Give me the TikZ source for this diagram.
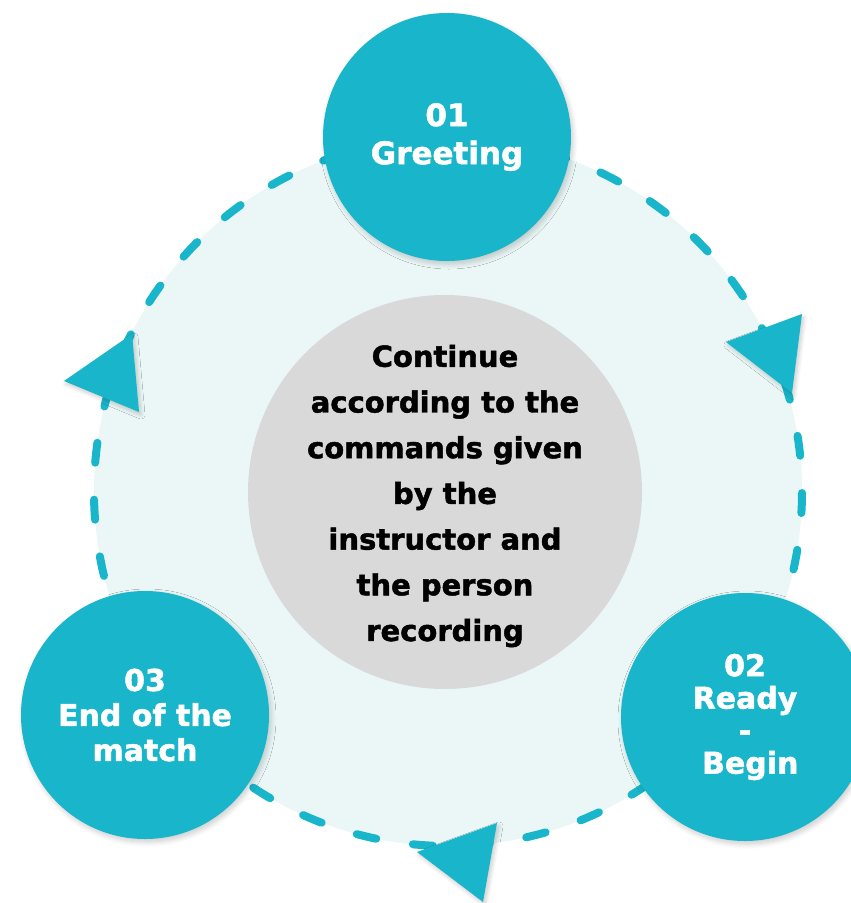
\documentclass[tikz,border=0pt]{standalone}
\usepackage{fontspec}
\setmainfont{DejaVu Sans}[BoldFeatures={FakeBold=1.6}]
\usetikzlibrary{shadows.blur}
\definecolor{tealmain}{HTML}{19B5CA}
\definecolor{paleteal}{HTML}{EAF7F6}
\definecolor{hubgray}{HTML}{D9D9D9}
\begin{document}
\begin{tikzpicture}[x=1pt,y=-1pt,
  stepcirc/.style={circle, fill=tealmain, minimum size=248pt, inner sep=0pt,
    text=white, align=center, font=\bfseries\fontsize{30}{34}\selectfont,
    blur shadow={shadow xshift=2pt, shadow yshift=-3pt, shadow opacity=20, shadow blur steps=8, shadow blur radius=5pt}},
  hubcirc/.style={circle, fill=hubgray, minimum size=394pt, inner sep=0pt},
  hubtext/.style={text=black, align=center, inner sep=0pt, font=\bfseries\fontsize{29}{45.7}\selectfont},
  ring/.style={draw=tealmain, line width=8pt, line cap=round,
    dash pattern=on 20pt off 37.03pt, dash phase=56pt},
  arrowtri/.style={fill=tealmain,
    blur shadow={shadow xshift=2pt, shadow yshift=-3pt, shadow opacity=20, shadow blur steps=6, shadow blur radius=4pt}}
]
\useasboundingbox (0,0) rectangle (851,903);
\clip (0,0) rectangle (851,903);
\coordinate (c) at (448,492);
\fill[paleteal] (c) circle[radius=354];
\draw[ring] (c) circle[radius=354];
\node[hubcirc] (hub) at (445,492) {};
\node[hubtext] (hubtxt) at (445,496) {Continue\\according to the\\commands given\\by the\\instructor and\\the person\\recording};
\coordinate (a1) at (726,342); \coordinate (a2) at (802,314); \coordinate (a3) at (792,393);
\coordinate (b1) at (64,381);  \coordinate (b2) at (132,334); \coordinate (b3) at (139,412);
\coordinate (d1) at (417,852); \coordinate (d2) at (497,823); \coordinate (d3) at (483,902);
\path[arrowtri] (a1) -- (a2) -- (a3) -- cycle;
\path[arrowtri] (b1) -- (b2) -- (b3) -- cycle;
\path[arrowtri] (d1) -- (d2) -- (d3) -- cycle;
\node[stepcirc, font=\bfseries\fontsize{31}{38}\selectfont] (s1) at (447,137) {01\\Greeting};
\node[stepcirc, font=\bfseries\fontsize{30}{32.5}\selectfont] (s2) at (745,717) {02\\Ready\\-\\\hspace*{0.35em}Begin};
\node[stepcirc, font=\bfseries\fontsize{30}{35}\selectfont] (s3) at (145,715) {03\\End of the\\match};
\end{tikzpicture}
\end{document}
